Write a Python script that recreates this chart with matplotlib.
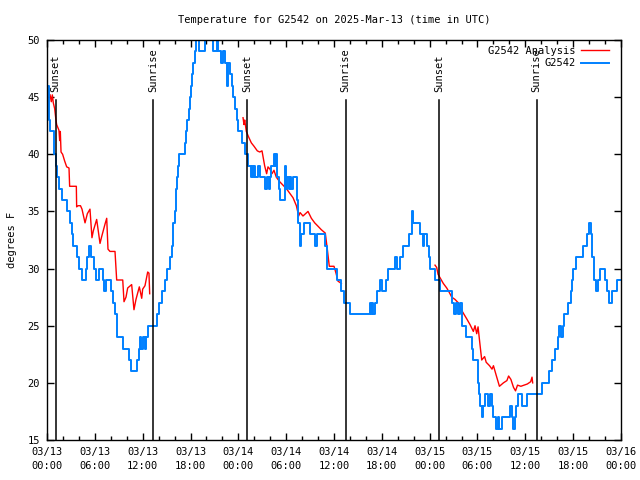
from datetime import datetime, timedelta
import matplotlib
matplotlib.use("Agg")
import matplotlib.pyplot as plt
import matplotlib.transforms as mtransforms

plt.rcParams["font.family"] = "DejaVu Sans Mono"
plt.rcParams["font.size"] = 7.5

# hours since 2025-03-13 00:00 UTC
base = datetime(2025, 3, 13)
title = "Temperature for G2542 on 2025-Mar-13 (time in UTC)"

# observed station temperature (step changes: hour, degrees F)
obs_h = [0.0, 0.19, 0.38, 0.92, 1.07, 1.25, 1.54, 1.84, 2.47, 2.88, 3.1, 3.26, 3.72, 4.01,
         4.35, 4.89, 5.06, 5.27, 5.58, 5.9, 6.15, 6.56, 6.98, 7.15, 7.4, 8.0, 8.28, 8.53,
         8.72, 8.82, 9.5, 10.29, 10.54, 11.29, 11.48, 11.67, 11.79, 12.04, 12.23, 12.42,
         12.73, 13.83, 14.11, 14.43, 14.74, 15.05, 15.43, 15.68, 15.77, 15.84, 16.02, 16.12,
         16.24, 16.35, 16.46, 16.62, 17.31, 17.44, 17.62, 17.77, 17.9, 18.0, 18.13, 18.31,
         18.53, 18.75, 18.9, 19.1, 19.82, 20.66, 20.86, 21.29, 21.49, 21.83, 22.11, 22.33,
         22.54, 22.74, 22.96, 23.17, 23.37, 23.64, 23.87, 24.02, 24.4, 24.89, 25.21, 25.55,
         25.71, 25.84, 25.96, 26.13, 26.47, 26.68, 27.38, 27.64, 27.81, 27.97, 28.14, 28.47,
         28.64, 28.76, 28.89, 29.06, 29.19, 29.82, 29.94, 30.1, 30.31, 30.44, 30.65, 30.86,
         31.4, 31.49, 31.69, 31.9, 32.24, 32.95, 33.66, 33.83, 34.91, 35.08, 35.16, 36.38,
         36.94, 37.26, 37.95, 40.48, 40.6, 40.8, 40.9, 41.14, 41.39, 41.77, 41.98, 42.5,
         42.81, 43.65, 43.87, 44.28, 44.66, 45.41, 45.75, 45.95, 46.79, 47.17, 47.35, 47.7,
         47.86, 48.04, 48.67, 49.3, 50.77, 51.05, 51.3, 51.6, 51.8, 52.0, 52.57, 53.28,
         53.48, 54.1, 54.2, 54.33, 54.53, 54.63, 54.94, 55.35, 55.57, 55.78, 55.98, 56.32,
         56.57, 56.7, 57.03, 58.07, 58.29, 58.51, 58.7, 58.82, 59.1, 59.53, 60.17, 62.05,
         63.0, 63.35, 63.66, 64.1, 64.22, 64.47, 64.73, 64.85, 65.39, 65.67, 65.86, 66.02,
         66.36, 67.27, 67.77, 67.95, 68.24, 68.36, 68.61, 68.82, 69.11, 69.36, 70.03, 70.28,
         70.53, 70.83, 71.54, 71.87]
obs_t = [46, 43, 42, 40, 39, 38, 37, 36, 35, 34, 33, 32, 31, 30,
         29, 30, 31, 32, 31, 30, 29, 30, 29, 28, 29, 28, 27, 26,
         25, 24, 23, 22, 21, 22, 23, 24, 23, 24, 23, 24,
         25, 26, 27, 28, 29, 30, 31, 32, 33, 34, 35, 36,
         37, 38, 39, 40, 41, 42, 43, 44, 45, 46, 47, 48,
         49, 50, 51, 49, 51, 50, 49, 51, 49, 48, 49, 48,
         46, 48, 47, 46, 45, 44, 43, 42, 41, 40, 39, 38,
         39, 38, 39, 38, 39, 38, 37, 38, 37, 38, 39, 40,
         39, 40, 38, 37, 36, 39, 37, 38, 37, 38, 37, 38,
         36, 34, 32, 33, 34, 33, 32, 33, 32, 31, 30, 29,
         28, 27, 26, 27, 26, 27, 26, 27, 28, 29, 28, 29,
         30, 31, 30, 31, 32, 33, 35, 34, 33, 32, 33, 32,
         31, 30, 29, 28, 27, 26, 27, 26, 27, 25, 24, 23,
         22, 20, 19, 18, 17, 18, 19, 18, 19, 18, 17, 16,
         17, 16, 17, 18, 17, 16, 17, 18, 19, 18, 19, 20,
         21, 22, 23, 24, 25, 24, 25, 26, 27, 28, 29, 30,
         31, 32, 33, 34, 33, 31, 29, 28, 29, 30, 29, 28,
         27, 28, 29, 29]

# analysis temperature, three overnight pieces
ana1_h = [0.38, 0.54, 0.67, 0.79, 0.96, 1.09, 1.21, 1.5, 1.59, 1.67, 1.76, 1.96, 2.22, 2.47,
          2.76, 2.84, 3.51, 3.68, 3.72, 3.89, 4.2, 4.39, 4.77, 5.06, 5.39, 5.64, 5.81, 6.23,
          6.65, 6.86, 7.28, 7.49, 7.65, 7.9, 8.53, 8.74, 9.5, 9.66, 9.91, 10.12, 10.62,
          10.91, 11.16, 11.58, 11.88, 12.0, 12.29, 12.63, 12.79, 12.88]
ana1_t = [45.2, 44.6, 45.2, 44.5, 44.0, 43.2, 42.6, 42.1, 41.2, 42.0, 40.2, 40.0, 39.4, 38.9,
          38.8, 37.2, 37.2, 37.2, 35.4, 35.5, 35.5, 35.2, 34.0, 34.8, 35.2, 32.7, 33.3, 34.3,
          32.2, 32.8, 33.9, 34.4, 31.7, 31.5, 31.5, 29.0, 29.0, 27.1, 27.5, 28.3, 28.6,
          26.4, 27.3, 28.4, 27.4, 28.2, 28.5, 29.7, 29.6, 27.8]
ana2_h = [24.59, 24.71, 24.8, 25.0, 25.3, 25.63, 25.97, 26.38, 26.68, 26.97, 27.3, 27.55,
          27.72, 27.97, 28.22, 28.47, 28.76, 29.19, 29.6, 30.02, 30.44, 30.86, 31.28, 31.57,
          31.74, 32.11, 32.74, 33.16, 33.58, 34.0, 34.41, 34.91, 35.16, 35.41, 36.0, 36.25,
          36.5, 36.92]
ana2_t = [43.2, 42.6, 43.0, 42.0, 41.5, 41.0, 40.7, 40.3, 40.2, 40.3, 39.0, 38.3,
          38.9, 38.7, 38.3, 38.6, 38.0, 37.6, 37.3, 37.0, 36.6, 36.2, 35.5, 34.6,
          34.9, 34.6, 35.0, 34.4, 34.0, 33.7, 33.4, 33.1, 31.7, 30.2, 30.2, 29.6,
          28.9, 28.7]
ana3_h = [48.67, 48.88, 49.05, 49.3, 49.71, 50.14, 50.47, 50.77, 51.18, 51.6, 51.89, 52.22,
          52.65, 53.06, 53.48, 53.69, 53.9, 54.07, 54.32, 54.53, 54.89, 55.09, 55.51, 55.82,
          56.0, 56.33, 56.75, 57.25, 57.69, 57.9, 58.19, 58.52, 58.77, 59.02, 59.44, 59.84,
          60.25, 60.67, 60.84, 60.92]
ana3_t = [30.3, 30.1, 29.5, 29.2, 28.7, 28.3, 27.9, 27.5, 27.3, 27.0, 26.5, 26.1,
          25.6, 25.1, 24.5, 25.0, 24.3, 24.9, 23.3, 22.0, 22.3, 21.8, 21.5, 21.2,
          21.5, 20.7, 19.7, 20.0, 20.2, 20.6, 20.3, 19.6, 19.3, 19.8, 19.7, 19.8,
          19.9, 20.1, 20.5, 20.0]

sun_h = [1.08, 13.35, 25.13, 37.45, 49.22, 61.42]
sun_lab = ["Sunset", "Sunrise", "Sunset", "Sunrise", "Sunset", "Sunrise"]

fig = plt.figure(figsize=(6.4, 4.8), dpi=100)
ax = fig.add_axes([47 / 640, 40 / 480, 574 / 640, 400 / 480])

red = "#ff0000"
blue = "#0080ff"
ax.plot(ana1_h, ana1_t, color=red, lw=1.0, label="G2542 Analysis")
ax.plot(ana2_h, ana2_t, color=red, lw=1.0)
ax.plot(ana3_h, ana3_t, color=red, lw=1.0)
ax.plot(obs_h, obs_t, color=blue, lw=1.4, drawstyle="steps-post", label="G2542")

trans = mtransforms.blended_transform_factory(ax.transData, ax.transAxes)
for h, lab in zip(sun_h, sun_lab):
    ax.axvline(h, ymin=0, ymax=0.85, color="black", lw=1.1)
    ax.text(h, 0.87, lab, transform=trans, rotation=90, ha="center", va="bottom")

ax.set_xlim(0, 72)
ax.set_ylim(15, 50)
xt = list(range(0, 73, 6))
ax.set_xticks(xt)
ax.set_xticklabels([(base + timedelta(hours=h)).strftime("%m/%d\n%H:%M") for h in xt])
ax.set_xticks(range(0, 73, 2), minor=True)
ax.set_yticks(range(15, 51, 5))
for lab in ax.get_xticklabels():
    lab.set_linespacing(1.45)

ax.tick_params(which="both", direction="in", top=True, right=True, width=1.0)
ax.tick_params(which="major", length=5, pad=5)
ax.tick_params(which="minor", length=3)
for s in ax.spines.values():
    s.set_linewidth(1.0)

ax.legend(loc="upper right", bbox_to_anchor=(0.988, 0.999), frameon=False, markerfirst=False,
          borderpad=0, handlelength=2.7, handletextpad=0.5, labelspacing=0.25)

fig.text(334 / 640, 1 - 20 / 480, title, ha="center", va="center")
fig.text(12 / 640, 240 / 480, "degrees F", rotation=90, ha="center", va="center")

fig.savefig("out.png", dpi=100)
